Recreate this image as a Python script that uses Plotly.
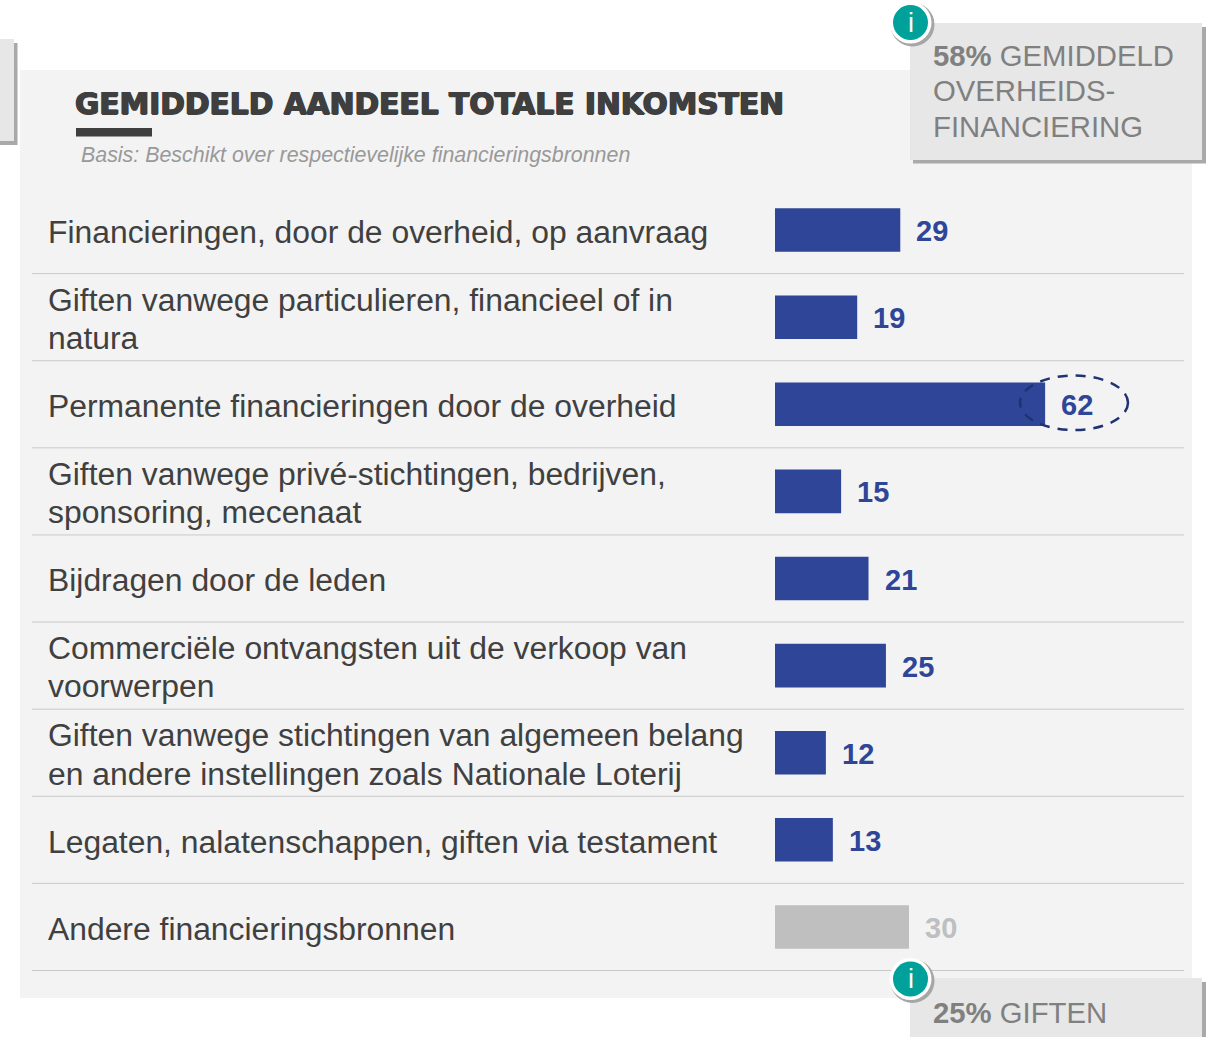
import plotly.graph_objects as go

W, H = 1206, 1037
FONT = "Liberation Sans"

labels = [
    ["Financieringen, door de overheid, op aanvraag"],
    ["Giften vanwege particulieren, financieel of in", "natura"],
    ["Permanente financieringen door de overheid"],
    ["Giften vanwege privé-stichtingen, bedrijven,", "sponsoring, mecenaat"],
    ["Bijdragen door de leden"],
    ["Commerciële ontvangsten uit de verkoop van", "voorwerpen"],
    ["Giften vanwege stichtingen van algemeen belang", "en andere instellingen zoals Nationale Loterij"],
    ["Legaten, nalatenschappen, giften via testament"],
    ["Andere financieringsbronnen"],
]
value_labels = [29, 19, 62, 15, 21, 25, 12, 13, 30]
bar_lengths = [28.8, 18.9, 62.1, 15.2, 21.5, 25.5, 11.7, 13.3, 30.8]
bar_colors = ["#2E4598"] * 8 + ["#BFBFBF"]
value_colors = ["#2E4598"] * 8 + ["#BFBFBF"]

PLOT_L, PLOT_R, PLOT_T, PLOT_B = 775, 1184, 186.5, 970.5
PX_PER_UNIT = 4.35


def px(x):
    return x / W


def py(y):
    return 1 - y / H


def pshape(kind, x0, y0, x1, y1, fill=None, line=None, width=0, dash=None):
    return dict(type=kind, xref="paper", yref="paper",
                x0=px(x0), x1=px(x1), y0=py(y0), y1=py(y1),
                fillcolor=fill, line=dict(color=line, width=width, dash=dash),
                layer="above" if kind == "circle" else "below")


def ptext(x, y, text, size, color, shadow=None, anchor="left", family=FONT):
    font = dict(family=family, size=size, color=color)
    if shadow:
        font["shadow"] = shadow
    return dict(xref="paper", yref="paper", x=px(x), y=py(y), text=text, font=font,
                showarrow=False, xanchor=anchor, yanchor="middle",
                borderpad=0, borderwidth=0)


ids = list(range(len(bar_lengths)))
fig = go.Figure(go.Bar(x=bar_lengths, y=ids, orientation="h", marker=dict(color=bar_colors, line_width=0),
                       hoverinfo="skip", showlegend=False))

shapes = [pshape("rect", 20, 70, 1192, 998, fill="#F3F3F3")]
shapes += [
    pshape("rect", -5, 43, 17.5, 145, fill="#A9A9A9"),
    pshape("rect", -5, 39, 14, 141, fill="#E7E7E7"),
    pshape("rect", 913, 27, 1206, 163.5, fill="#A9A9A9"),
    pshape("rect", 910, 23, 1202, 160, fill="#E7E7E7"),
    pshape("rect", 913, 982, 1206, 1045, fill="#A9A9A9"),
    pshape("rect", 910, 978, 1202, 1045, fill="#E7E7E7"),
]
n = len(bar_lengths)
row_h = (PLOT_B - PLOT_T) / n
for i in range(1, n + 1):
    y = PLOT_T + row_h * i
    shapes.append(pshape("line", 32, y, 1184, y, line="#C9C9C9", width=1))
shapes.append(pshape("rect", 76, 128, 152, 136.5, fill="#3F3F3F"))
for cx, cy in [(910.5, 22.5), (910.5, 979)]:
    shapes.append(pshape("circle", cx - 20, cy - 20, cx + 24, cy + 24, fill="#A6A6A6"))
    shapes.append(pshape("circle", cx - 21, cy - 21, cx + 21, cy + 21, fill="#FFFFFF"))
    shapes.append(pshape("circle", cx - 17.5, cy - 17.5, cx + 17.5, cy + 17.5, fill="#00A19A"))
shapes.append(pshape("circle", 1020, 375.5, 1128, 430, line="#1F3272", width=2.5, dash="10px,8px"))

ann = []
ann.append(ptext(75, 103, "<b>GEMIDDELD AANDEEL TOTALE INKOMSTEN</b>", 29.7, "#3F3F3F", family="DejaVu Sans",
                 shadow="0.8px 0 0 #3F3F3F, -0.8px 0 0 #3F3F3F, 0 0.5px 0 #3F3F3F, 0 -0.5px 0 #3F3F3F"))
ann.append(ptext(81, 155, "<i>Basis: Beschikt over respectievelijke financieringsbronnen</i>", 21.4, "#999999"))

for i, lines in enumerate(labels):
    offsets = [1.8] if len(lines) == 1 else [-17.5, 20.8]
    for line, off in zip(lines, offsets):
        ann.append(dict(xref="paper", yref="y", x=px(45.5), y=i, yshift=-off, text=line,
                        showarrow=False, xanchor="left", yanchor="middle",
                        font=dict(family=FONT, size=31.85, color="#404040")))
    ann.append(dict(xref="x", yref="y", x=bar_lengths[i], y=i, xshift=14, yshift=-1, text=f"<b>{value_labels[i]}</b>",
                    showarrow=False, xanchor="left", yanchor="middle",
                    font=dict(family=FONT, size=29, color=value_colors[i])))

box_color = "#808080"
ann += [
    ptext(933, 55.5, "<b>58%</b> GEMIDDELD", 29.3, box_color),
    ptext(933, 90.5, "OVERHEIDS-", 29.3, box_color),
    ptext(933, 126.5, "FINANCIERING", 29.3, box_color),
    ptext(933, 1012.5, "<b>25%</b> GIFTEN", 29.3, box_color),
    ptext(910.5, 22.5, "i", 27, "#FFFFFF", anchor="center"),
    ptext(910.5, 979, "i", 27, "#FFFFFF", anchor="center"),
]

fig.update_layout(
    width=W, height=H, autosize=False,
    margin=dict(l=0, r=0, t=0, b=0),
    paper_bgcolor="#FFFFFF", plot_bgcolor="rgba(0,0,0,0)",
    bargap=0.5, shapes=shapes, annotations=ann,
    font=dict(family=FONT),
    xaxis=dict(domain=[px(PLOT_L), px(PLOT_R)], range=[0, (PLOT_R - PLOT_L) / PX_PER_UNIT], visible=False, fixedrange=True),
    yaxis=dict(domain=[py(PLOT_B), py(PLOT_T)], range=[n - 0.5, -0.5], visible=False, fixedrange=True),
)
fig.write_html("out.html", config=dict(displayModeBar=False),
               post_script="document.body.style.margin='0';document.body.style.overflow='hidden';")
